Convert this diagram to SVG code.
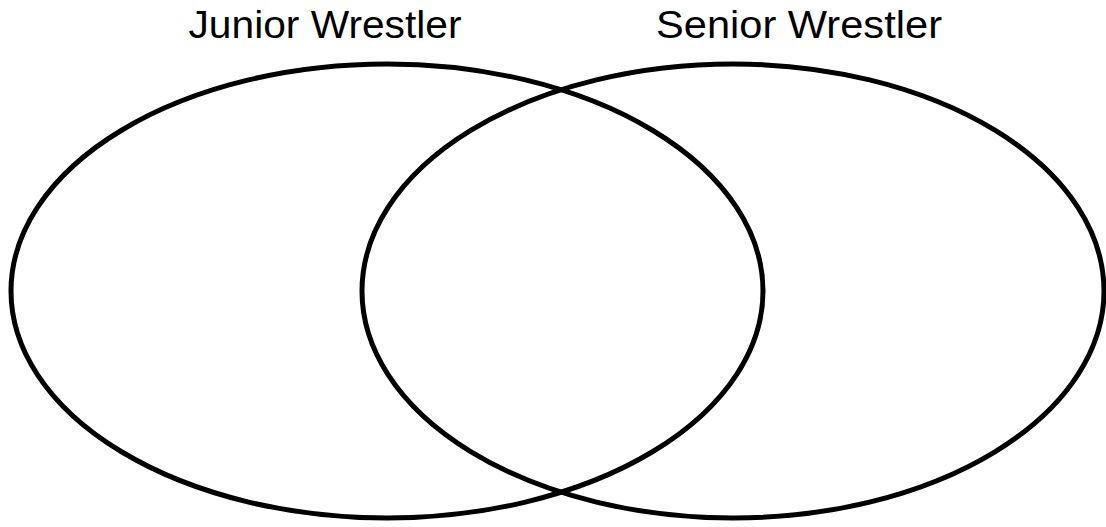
<svg xmlns="http://www.w3.org/2000/svg" width="1106" height="527" viewBox="0 0 1106 527">
<style>
.set{fill:none;stroke:#000;stroke-width:5}
.lbl{font-family:"Liberation Sans",Arial,sans-serif;font-size:38px;fill:#000;text-anchor:middle}
</style>
<rect width="1106" height="527" fill="#fff"/>
<g id="junior">
<ellipse class="set" cx="387" cy="291" rx="376" ry="227"/>
<text class="lbl" x="325" y="38" textLength="273" lengthAdjust="spacingAndGlyphs">Junior Wrestler</text>
</g>
<g id="senior">
<ellipse class="set" cx="733" cy="291" rx="371" ry="227"/>
<text class="lbl" x="799" y="38" textLength="286" lengthAdjust="spacingAndGlyphs">Senior Wrestler</text>
</g>
<g id="connectors"/>
</svg>
